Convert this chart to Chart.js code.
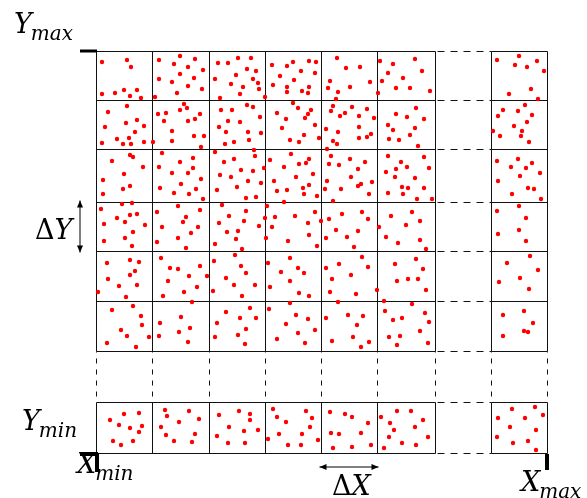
<!DOCTYPE html>
<html>
<head>
<meta charset="utf-8">
<script src="https://cdn.jsdelivr.net/npm/chart.js@4"></script>
<style>
  body { margin: 0; background: #fff; }
  canvas { display: block; }
</style>
</head>
<body>
<canvas id="grid" width="587" height="498"></canvas>
<script>
  // cell edges (X from Xmin, Y from Ymin)
  const xEdges = [0, 56, 113, 169, 225, 281, 339, 395, 451];
  const yEdges = [0, 51, 102, 152, 202, 251, 304, 353, 402];

  const yTickLabels = [["Y", "max"], ["ΔY", ""], ["Y", "min"]];
  const xTickLabels = [["X", "min"], ["ΔX", ""], ["X", "max"]];

  // points, one list per row of cells (top to bottom)
  const row1 = [
    [6,391],[31,393],[35,386],[6,359],[19,360],[28,363],[34,357],[41,363],[45,355],
    [63,393],[84,397],[99,394],[78,389],[92,386],[107,383],[84,379],[63,374],[76,371],[98,375],[92,367],[106,364],[81,360],[59,356],
    [122,390],[132,390],[142,395],[155,395],[151,384],[160,382],[140,378],[119,374],[135,369],[157,374],[162,370],[147,366],[163,364],[144,359],[124,355],
    [169,356],[176,388],[191,387],[197,391],[213,392],[220,391],[205,382],[219,380],[184,377],[198,373],[177,368],[191,366],[213,366],[191,361],[206,362],[212,360],
    [241,395],[250,385],[264,386],[234,372],[232,365],[242,361],[254,366],[274,371],[240,354],
    [284,392],[297,389],[319,394],[292,380],[326,382],[307,375],[286,372],[300,365],[314,365],[334,362],[282,360],
    [401,393],[423,397],[441,392],[419,388],[431,386],[448,382],[413,359],[435,364],[442,354]
  ];
  const row2 = [
    [31,347],[12,341],[41,333],[30,330],[9,326],[48,327],[39,321],[6,310],[21,314],[27,309],[33,315],[35,309],[48,311],
    [62,339],[70,340],[84,343],[88,349],[91,345],[104,339],[68,332],[92,332],[99,334],[76,322],[98,317],[108,317],[76,312],[57,311],[105,306],
    [125,343],[136,343],[151,348],[157,346],[132,332],[144,331],[164,336],[123,326],[130,321],[152,321],[165,320],[153,313],[129,309],[138,311],
    [197,350],[202,345],[215,343],[212,339],[209,335],[181,340],[190,334],[219,328],[186,325],[208,318],[223,315],[194,313],[203,311],
    [237,347],[235,342],[256,346],[271,344],[249,340],[244,337],[263,337],[278,335],[230,324],[242,321],[263,326],[275,319],[271,316],[263,315],[237,312],[241,309],
    [320,345],[300,339],[311,336],[328,334],[292,328],[297,323],[319,325],[314,318],[293,314],[303,313],[322,307],
    [429,348],[407,343],[422,342],[402,337],[436,338],[431,331],[418,327],[397,322],[426,322],[404,317],[425,317],[433,311]
  ];
  const row3 = [
    [34,298],[37,296],[16,292],[47,286],[28,279],[7,273],[34,267],[27,264],[7,259],
    [66,300],[84,291],[97,295],[63,286],[97,285],[76,280],[92,280],[105,274],[85,269],[64,265],[100,264],[78,260],[93,259],[107,254],
    [119,301],[158,303],[159,297],[128,291],[138,294],[145,283],[157,282],[124,278],[135,276],[152,272],[165,270],[141,266],[121,263],[150,255],[160,256],[168,285],
    [195,299],[213,294],[174,293],[203,289],[210,290],[188,286],[217,279],[200,276],[178,272],[213,268],[207,265],[191,263],[181,262],[208,259],[221,257],
    [231,304],[235,297],[254,294],[269,291],[233,289],[243,288],[262,284],[255,276],[231,272],[276,271],[265,269],[262,267],[229,264],[245,264],[273,259],[237,252],
    [292,297],[305,291],[328,296],[300,284],[311,286],[333,285],[290,281],[299,276],[319,275],[306,266],[312,265],[328,265],[292,260],[307,259],[321,254],[336,254],
    [401,292],[422,294],[436,290],[415,286],[430,285],[444,280],[424,277],[402,272],[432,265],[438,264],[416,259],[445,254]
  ];
  const row4 = [
    [5,244],[26,249],[36,250],[21,235],[34,238],[41,239],[29,231],[8,229],[49,228],[37,221],[29,215],[8,212],[36,207],
    [82,247],[61,241],[104,243],[90,236],[87,231],[66,226],[102,226],[95,220],[82,215],[61,211],[90,205],
    [126,248],[150,242],[133,237],[148,232],[123,230],[163,227],[142,222],[131,221],[140,214],[119,209],[146,204],[169,235],
    [188,251],[171,247],[179,236],[199,237],[219,241],[176,226],[212,230],[170,215],[213,218],[192,212],[221,207],
    [246,239],[266,241],[233,234],[272,234],[225,232],[240,223],[262,222],[230,215],[251,216],[258,206],
    [295,237],[316,241],[324,232],[283,226],[310,228],[290,216],[324,213],[302,210],[330,204],
    [423,247],[401,242],[430,235],[423,223],[402,219],[430,212]
  ];
  const row5 = [
    [11,190],[34,193],[43,191],[39,182],[34,178],[12,174],[23,167],[41,168],[2,161],[30,156],
    [65,195],[74,185],[82,184],[104,187],[93,177],[72,172],[111,177],[101,166],[88,161],[67,157],
    [139,198],[118,192],[145,187],[150,180],[130,175],[138,168],[159,168],[117,162],[146,157],
    [194,195],[172,190],[202,185],[185,181],[208,180],[194,172],[174,166],[203,160],[213,157],
    [266,196],[243,189],[230,185],[272,186],[236,174],[255,178],[234,161],[260,159],[281,163],
    [320,194],[299,189],[327,184],[301,172],[312,174],[322,174],[330,163],
    [434,197],[411,190],[442,183],[424,175],[403,171],[433,164]
  ];
  const row6 = [
    [37,147],[16,143],[45,137],[46,128],[25,123],[31,117],[53,116],[11,110],[40,106],
    [96,151],[85,136],[64,130],[94,125],[83,121],[63,117],[92,111],
    [154,145],[130,141],[144,135],[160,135],[121,130],[150,124],[142,118],[119,116],[149,109],
    [194,150],[173,144],[200,138],[212,134],[190,129],[219,123],[202,120],[181,114],[209,110],
    [242,151],[230,135],[252,138],[267,137],[261,128],[236,112],[257,116],[273,111],[265,106],
    [288,152],[316,149],[289,142],[329,140],[297,133],[306,135],[333,131],[324,122],[293,116],[304,117],[332,110],[301,108],
    [428,142],[407,138],[437,130],[428,122],[432,121],[407,117]
  ];
  const rowLast = [
    [28,39],[43,40],[14,33],[23,28],[34,25],[46,27],[43,21],[17,12],[37,12],[25,8],
    [69,43],[71,37],[93,42],[103,34],[83,31],[65,26],[70,18],[99,19],[78,12],[96,11],
    [123,38],[143,42],[154,39],[154,33],[133,26],[162,23],[148,22],[121,17],[132,10],[149,10],
    [177,44],[181,36],[210,42],[190,31],[216,35],[214,26],[183,19],[206,19],[172,14],[192,8],[205,8],[222,13],
    [234,41],[249,39],[256,36],[272,30],[235,20],[243,19],[265,20],[237,5],[256,6],[275,8],
    [285,36],[301,42],[315,42],[294,30],[327,33],[298,23],[319,26],[293,16],[306,10],[332,16],[320,8],[288,5],
    [416,44],[439,46],[402,35],[429,35],[447,38],[414,26],[440,23],[401,16],[417,10],[432,12],[440,3]
  ];

  const points = [row1, row2, row3, row4, row5, row6, rowLast]
    .flat()
    .map(([x, y]) => ({ x, y }));

  const SERIF = '"DejaVu Serif"';

  // draw "Y" + subscript, Δ stays upright
  function label(ctx, pair, left, base, subBase) {
    let cx = left;
    let main = pair[0];
    if (main.startsWith("Δ")) {
      ctx.font = "27px " + SERIF;
      ctx.fillText("Δ", cx, base);
      cx += ctx.measureText("Δ").width;
      main = main.slice(1);
    }
    ctx.font = "italic 27px " + SERIF;
    ctx.fillText(main, cx, base);
    cx += ctx.measureText(main).width;
    if (pair[1]) {
      ctx.font = "italic 20px " + SERIF;
      ctx.fillText(pair[1], cx - 1, subBase);
    }
  }

  function arrow(ctx, x1, y1, x2, y2) {
    const a = Math.atan2(y2 - y1, x2 - x1);
    ctx.beginPath();
    ctx.moveTo(x1, y1);
    ctx.lineTo(x2, y2);
    ctx.stroke();
    [[x1, y1, a + Math.PI], [x2, y2, a]].forEach(([tx, ty, ang]) => {
      ctx.beginPath();
      ctx.moveTo(tx, ty);
      ctx.lineTo(tx - 7 * Math.cos(ang) + 3 * Math.sin(ang), ty - 7 * Math.sin(ang) - 3 * Math.cos(ang));
      ctx.lineTo(tx - 7 * Math.cos(ang) - 3 * Math.sin(ang), ty - 7 * Math.sin(ang) + 3 * Math.cos(ang));
      ctx.closePath();
      ctx.fill();
    });
  }

  const cellsPlugin = {
    id: "cells",
    beforeDatasetsDraw(chart) {
      const { ctx, scales: { x, y } } = chart;
      const px = (v) => Math.round(x.getPixelForValue(v)) + 0.5;
      const py = (v) => Math.round(y.getPixelForValue(v)) + 0.5;
      const seg = (x1, y1, x2, y2, dash, off) => {
        ctx.setLineDash(dash || []);
        ctx.lineDashOffset = off || 0;
        ctx.beginPath();
        ctx.moveTo(x1, y1);
        ctx.lineTo(x2, y2);
        ctx.stroke();
      };
      ctx.save();
      ctx.strokeStyle = "#111";
      ctx.lineWidth = 1;
      yEdges.forEach((v) => {
        const yy = py(v);
        seg(px(xEdges[0]), yy, px(xEdges[6]), yy);
        seg(px(xEdges[6]) + 2, yy, px(xEdges[7]), yy, [7, 6]);
        seg(px(xEdges[7]), yy, px(xEdges[8]), yy);
      });
      xEdges.forEach((v) => {
        const xx = px(v);
        seg(xx, py(yEdges[0]), xx, py(yEdges[1]));
        seg(xx, py(yEdges[1]), xx, py(yEdges[2]), [5, 6], 5);
        seg(xx, py(yEdges[2]), xx, py(yEdges[8]));
      });
      ctx.restore();
    },
    afterDraw(chart) {
      const { ctx, scales: { x, y } } = chart;
      const left = x.getPixelForValue(0), right = x.getPixelForValue(451);
      const top = y.getPixelForValue(402), bottom = y.getPixelForValue(0);
      ctx.save();
      ctx.fillStyle = "#000";
      ctx.strokeStyle = "#000";
      ctx.textBaseline = "alphabetic";

      // thick end ticks
      ctx.fillRect(left - 16, top - 1.5, 17, 3);
      ctx.fillRect(left - 16, bottom - 1, 18, 4);
      ctx.fillRect(left - 1, bottom, 4, 19);
      ctx.fillRect(right - 2, bottom + 1, 4, 16);

      // y side labels
      label(ctx, yTickLabels[0], 14, top - 18, top - 11);
      label(ctx, yTickLabels[1], 35, y.getPixelForValue(214), 0);
      label(ctx, yTickLabels[2], 22, bottom - 23, bottom - 16);

      // x side labels
      label(ctx, xTickLabels[0], 77, bottom + 20, bottom + 27);
      label(ctx, xTickLabels[1], 332, bottom + 42, 0);
      label(ctx, xTickLabels[2], 521, bottom + 38, bottom + 45);

      // delta arrows
      ctx.lineWidth = 1;
      arrow(ctx, left - 16, py0(y, yEdges[5]) - 1.5, left - 16, py0(y, yEdges[4]) + 1.5);
      arrow(ctx, x.getPixelForValue(xEdges[4]) - 1.5, bottom + 14, x.getPixelForValue(xEdges[5]) + 1.5, bottom + 14);
      ctx.restore();
    }
  };
  function py0(scale, v) { return scale.getPixelForValue(v); }

  new Chart(document.getElementById("grid").getContext("2d"), {
    type: "scatter",
    data: {
      datasets: [
        {
          data: points,
          pointRadius: 2.2,
          pointBackgroundColor: "#ff0000",
          pointBorderWidth: 0,
          clip: false,
        },
      ],
    },
    options: {
      responsive: false,
      animation: false,
      layout: { padding: { left: 96, right: 40, top: 51, bottom: 45 } },
      plugins: { legend: { display: false }, tooltip: { enabled: false } },
      scales: {
        x: { type: "linear", min: 0, max: 451, display: false },
        y: { type: "linear", min: 0, max: 402, display: false },
      },
    },
    plugins: [cellsPlugin],
  });
</script>
</body>
</html>
